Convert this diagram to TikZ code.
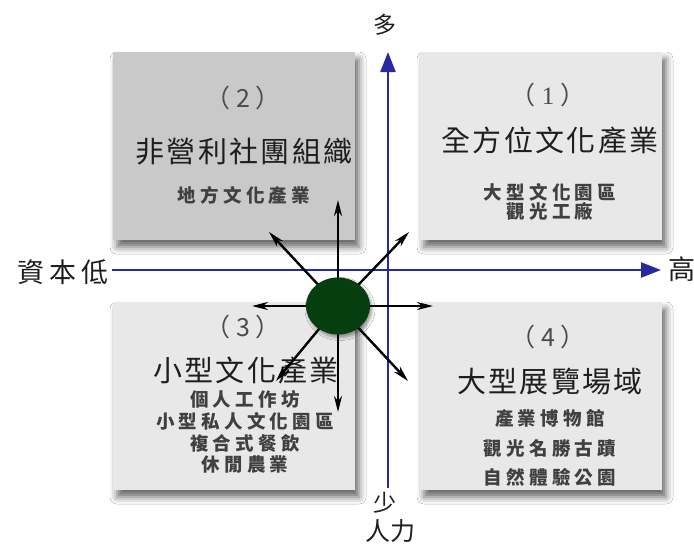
\documentclass[tikz,border=0pt]{standalone}
\usepackage{fontspec}
\setmainfont{Noto Sans CJK TC}
\newfontfamily\titlefont[LetterSpace=8]{Noto Sans CJK TC}
\newfontfamily\smallfont[LetterSpace=23]{Noto Sans CJK TC}
\newfontfamily\axisfont[LetterSpace=18]{Noto Sans CJK TC}
\newfontfamily\latserif{Liberation Serif}
\usetikzlibrary{arrows.meta,shadows.blur,shapes.geometric}
\definecolor{axisblue}{RGB}{40,40,160}
\definecolor{boxdark}{RGB}{201,201,201}
\definecolor{boxlight}{RGB}{232,232,232}
\definecolor{coregreen}{RGB}{5,62,15}
\definecolor{txt}{RGB}{30,30,30}
\newcommand{\pnum}[1]{（\hspace{6pt}#1\hspace{6pt}）}
\tikzset{
  quad/.style={draw=none, minimum width=242pt, minimum height=188pt, inner sep=0pt,
    blur shadow={shadow xshift=4pt, shadow yshift=-7pt, shadow blur radius=7pt, shadow opacity=60}},
  numtxt/.style={font=\fontsize{25}{27}\selectfont, text=txt!80!white, inner sep=0pt},
  titletxt/.style={font=\titlefont\fontsize{29}{31}\selectfont, text=txt, inner sep=0pt},
  subtxt/.style={font=\smallfont\bfseries\fontsize{18.5}{20}\selectfont, text=txt!85!white, inner sep=0pt},
  axislbl/.style={font=\fontsize{22}{24}\selectfont, text=txt, inner sep=0pt},
  axisline/.style={draw=axisblue, line width=2.2pt, -{Triangle[length=20pt,width=15pt]}},
  ray/.style={draw=black, line width=2.4pt, -{Stealth[length=16pt,width=8pt,inset=5pt]}},
}
\begin{document}
\begin{tikzpicture}[x=1pt,y=-1pt]
\useasboundingbox (0,0) rectangle (694,547);
\fill[white] (0,0) rectangle (694,547);
% quadrant boxes
\node[quad, fill=boxdark]  (b2) at (234,146) {};
\node[quad, fill=boxlight] (b1) at (541,146) {};
\node[quad, fill=boxlight] (b3) at (234,396) {};
\node[quad, fill=boxlight] (b4) at (541,396) {};
% box 2 texts
\node[numtxt]   (n2)  at (243,98)  {\pnum{2}};
\node[titletxt] (t2)  at (244,152) {非營利社團組織};
\node[subtxt]   (s2a) at (244,195) {地方文化產業};
% box 1 texts
\node[numtxt]   (n1)  at (548,95)  {\pnum{{\latserif 1}}};
\node[titletxt] (t1)  at (550,140) {全方位文化產業};
\node[subtxt]   (s1a) at (550,192) {大型文化園區};
\node[subtxt]   (s1b) at (550,211) {觀光工廠};
% box 3 texts
\node[numtxt]   (n3)  at (243,327) {\pnum{3}};
\node[titletxt] (t3)  at (246,370) {小型文化產業};
\node[subtxt]   (s3a) at (245,399) {個人工作坊};
\node[subtxt]   (s3b) at (245,421) {小型私人文化園區};
\node[subtxt]   (s3c) at (245,443) {複合式餐飲};
\node[subtxt]   (s3d) at (245,465) {休閒農業};
% box 4 texts
\node[numtxt]   (n4)  at (548,337) {\pnum{4}};
\node[titletxt] (t4)  at (550,382) {大型展覽場域};
\node[subtxt]   (s4a) at (550,418) {產業博物館};
\node[subtxt]   (s4b) at (550,448) {觀光名勝古蹟};
\node[subtxt]   (s4c) at (550,477) {自然體驗公園};
% axes
\coordinate (hl) at (112,270);
\coordinate (hr) at (661,270);
\coordinate (vb) at (388,488);
\coordinate (vt) at (388,52);
\draw[axisline] (hl) -- (hr);
\draw[axisline] (vb) -- (vt);
\node[axislbl, font=\axisfont\fontsize{27}{29}\selectfont] (capl) at (63,272) {資本低};
\node[axislbl, font=\fontsize{27}{29}\selectfont] (caph) at (682,269) {高};
\node[axislbl, font=\fontsize{23}{25}\selectfont] (labu) at (385,25) {多};
\node[axislbl, font=\fontsize{23}{25}\selectfont] (labd) at (385,503) {少};
\node[axislbl, font=\fontsize{25}{27}\selectfont] (labh) at (390,531) {人力};
% rays
\coordinate (core) at (338,306);
\coordinate (rU)  at (338,200);
\coordinate (rD)  at (338,412);
\coordinate (rL)  at (252,306);
\coordinate (rR)  at (433,306);
\coordinate (rUL) at (269,232);
\coordinate (rUR) at (409,232);
\coordinate (rDL) at (276,381);
\coordinate (rDR) at (408,381);
\foreach \e in {rU,rD,rL,rR,rUL,rUR,rDL,rDR} \draw[ray] (core) -- (\e);
\node[ellipse, minimum width=64pt, minimum height=57pt, inner sep=0pt, fill=coregreen,
  blur shadow={shadow xshift=2pt, shadow yshift=-3pt, shadow blur radius=3pt, shadow opacity=40}] (hub) at (core) {};
\end{tikzpicture}
\end{document}
